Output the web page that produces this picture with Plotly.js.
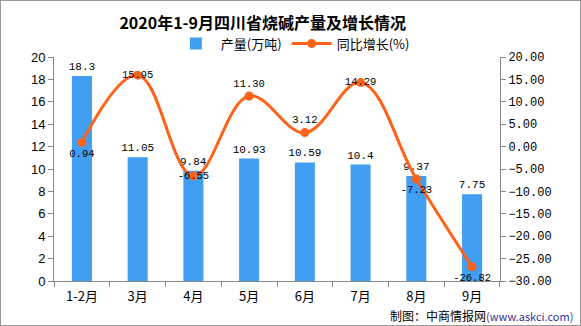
<!DOCTYPE html>
<html><head><meta charset="utf-8">
<script src="https://cdn.plot.ly/plotly-3.0.1.min.js"></script>
<style>html,body{margin:0;padding:0;background:#fff}#c{width:581px;height:326px;box-sizing:border-box;border:1px solid #999}</style>
</head><body><div id="c"></div>
<script>
const categories = ['1-2月','3月','4月','5月','6月','7月','8月','9月'];
const output = [18.3, 11.05, 9.84, 10.93, 10.59, 10.4, 9.37, 7.75];
const outputLabels = ['18.3','11.05','9.84','10.93','10.59','10.4','9.37','7.75'];
const growth = [0.94, 15.95, -6.55, 11.30, 3.12, 14.29, -7.23, -26.82];
const growthLabels = ['0.94','15.95','-6.55','11.30','3.12','14.29','-7.23','-26.82'];

const mono = 'Liberation Mono, DejaVu Sans Mono, monospace';
const barTrace = {
  type:'bar', x:categories, y:output, name:'产量(万吨)',
  marker:{color:'#419FF3'}, width:0.36,
  text:outputLabels, textposition:'outside', cliponaxis:false, constraintext:'none',
  textfont:{family:mono, size:11, color:'#000'}
};
const lineTrace = {
  type:'scatter', mode:'lines+markers+text', x:categories, y:growth, yaxis:'y2',
  name:'同比增长(%)', line:{color:'#FF6319', width:3, shape:'spline', smoothing:1.1},
  marker:{color:'#FF6319', size:9},
  text:growthLabels, cliponaxis:false,
  textposition:['bottom center','middle center','middle center','top center','top center','middle center','bottom center','bottom center'],
  textfont:{family:mono, size:10.5, color:'#000'}
};
const layout = {
  width:579, height:324,
  margin:{l:53, r:80, t:56, b:44},
  paper_bgcolor:'#fff', plot_bgcolor:'#fff',
  title:{text:'<b>2020年1-9月四川省烧碱产量及增长情况</b>', xref:'container', x:0.452, xanchor:'center', y:0.93, yanchor:'middle',
    font:{family:'Noto Sans CJK SC', size:16, color:'#000'}},
  showlegend:true,
  legend:{orientation:'h', x:0.262, xanchor:'left', y:1.06, yanchor:'middle',
    font:{family:'Noto Sans CJK SC', size:13, color:'#000'}, itemwidth:40},
  bargap:0.64,
  xaxis:{type:'category', showline:true, linecolor:'#888', linewidth:1, ticks:'outside', tickcolor:'#888', ticklen:5,
    ticklabelstandoff:3,
    tickson:'boundaries', showgrid:false, tickfont:{family:'Noto Sans CJK SC', size:13, color:'#000'}, fixedrange:true},
  yaxis:{range:[0,20], dtick:2, showline:true, linecolor:'#888', ticks:'outside', tickcolor:'#888', ticklen:5,
    showgrid:false, zeroline:false, tickfont:{family:'Liberation Sans, Arial', size:13, color:'#000'}},
  yaxis2:{range:[-30,20], dtick:5, overlaying:'y', side:'right', showline:true, linecolor:'#888', ticks:'outside',
    tickcolor:'#888', ticklen:5, showgrid:false, zeroline:false, tickformat:'.2f',
    tickfont:{family:mono, size:12, color:'#000'}},
  annotations:[{xref:'paper', yref:'paper', x:1.168, xanchor:'right', y:-0.155, yanchor:'middle', showarrow:false,
    text:'制图：中商情报网<span style="font-size:11px;color:#333399">(www.askci.com)</span>',
    font:{family:'Noto Sans CJK SC', size:12, color:'#000'}}]
};
Plotly.newPlot('c', [barTrace, lineTrace], layout, {displayModeBar:false, staticPlot:true});
</script></body></html>
